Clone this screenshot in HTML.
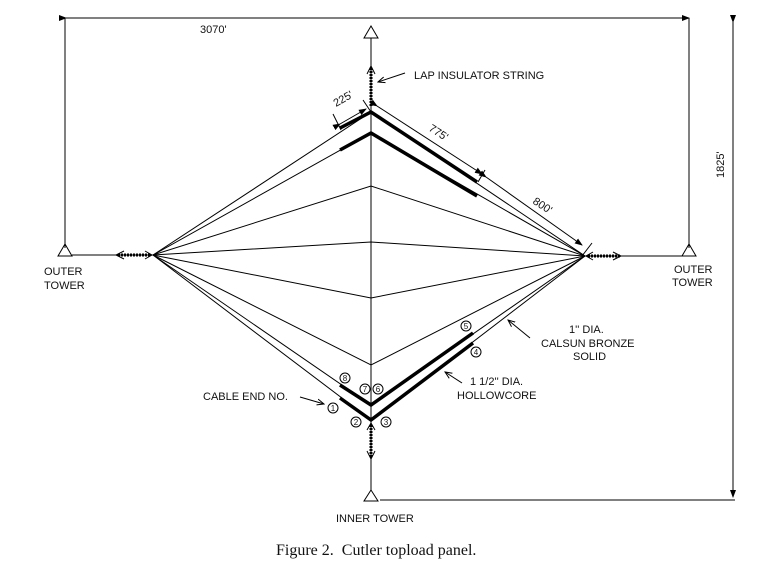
<!DOCTYPE html>
<html><head><meta charset="utf-8"><style>
html,body{margin:0;padding:0;background:#fff;}
svg{display:block;}
text{font-family:"Liberation Sans",sans-serif;font-size:11px;fill:#111;}
.cap{font-family:"Liberation Serif",serif;font-size:16px;}
</style></head><body>
<svg width="771" height="571" viewBox="0 0 771 571" xmlns="http://www.w3.org/2000/svg">
<defs>
<marker id="a" markerWidth="8" markerHeight="8" refX="7" refY="4" orient="auto"><path d="M0,1 L7,4 L0,7" fill="none" stroke="#000" stroke-width="1"/></marker>
<marker id="f" markerWidth="8" markerHeight="6" refX="7" refY="3" orient="auto"><path d="M0,0 L8,3 L0,6z" fill="#000"/></marker>
</defs>
<g stroke="#000" fill="none" stroke-width="1">
<line x1="66" y1="18" x2="689" y2="18" marker-start="url(#f)" marker-end="url(#f)"/>
<line x1="65" y1="18" x2="65" y2="248"/>
<line x1="689" y1="18" x2="689" y2="248"/>
<line x1="733" y1="22" x2="733" y2="497" marker-start="url(#f)" marker-end="url(#f)"/>
<line x1="380" y1="500" x2="735" y2="500"/>
<path d="M371,26 L364,38 L378,38 Z"/>
<path d="M65,244 L58,256 L72,256 Z"/>
<path d="M689,244 L682,256 L696,256 Z"/>
<path d="M371,490 L364,501 L378,501 Z"/>
<line x1="371" y1="38" x2="371" y2="490"/>
<line x1="72" y1="255" x2="153" y2="255"/>
<line x1="585" y1="256" x2="682" y2="256"/>
<line x1="371" y1="106" x2="371" y2="67" stroke-dasharray="2,1" stroke-width="3"/>
<path d="M367,74 L371,66 L375,74"/>
<line x1="371" y1="425" x2="371" y2="458" stroke-dasharray="2,1" stroke-width="3"/>
<path d="M367,451 L371,459 L375,451"/><path d="M367,430 L371,423 L375,430"/>
<line x1="118" y1="255" x2="150" y2="255" stroke-dasharray="2,1" stroke-width="3"/>
<path d="M124,251 L116,255 L124,259"/><path d="M145,251 L152,255 L145,259"/>
<line x1="588" y1="256" x2="620" y2="256" stroke-dasharray="2,1" stroke-width="3"/>
<path d="M613,252 L621,256 L613,260"/><path d="M593,252 L586,256 L593,260"/>
<g stroke-width="1">
<polyline points="153,255 371,112 585,256"/>
<polyline points="153,255 371,133 585,256"/>
<polyline points="153,255 371,186 585,256"/>
<polyline points="153,255 371,242 585,256"/>
<polyline points="153,255 371,298 585,256"/>
<polyline points="153,255 371,365 585,256"/>
<polyline points="153,255 371,405 585,256"/>
<polyline points="153,255 371,420 585,256"/>
</g>
<g stroke-width="3.5">
<polyline points="340,128 371,112 477,182"/>
<polyline points="340,150 371,133 477,196"/>
<polyline points="340,385 371,405 473,333"/>
<polyline points="340,398 371,420 473,343"/>
</g>
<line x1="340" y1="124" x2="366" y2="109" marker-start="url(#f)" marker-end="url(#f)"/>
<line x1="333" y1="114" x2="341" y2="130"/>
<line x1="363" y1="100" x2="371" y2="112"/>
<line x1="377" y1="106" x2="482" y2="174" marker-start="url(#f)" marker-end="url(#f)"/>
<line x1="485" y1="170" x2="478" y2="182"/>
<line x1="486" y1="177" x2="582" y2="245" marker-start="url(#f)" marker-end="url(#f)"/>
<line x1="592" y1="243" x2="582" y2="256"/>
<line x1="405" y1="73" x2="378" y2="82" marker-end="url(#a)"/>
<line x1="530" y1="338" x2="508" y2="320" marker-end="url(#a)"/>
<line x1="462" y1="383" x2="445" y2="372" marker-end="url(#a)"/>
<line x1="300" y1="397" x2="324" y2="404" marker-end="url(#a)"/>
</g>
<g stroke="#000" fill="none" stroke-width="1">
<circle cx="333" cy="408" r="5"/><circle cx="356" cy="422" r="5"/><circle cx="386" cy="422" r="5"/>
<circle cx="476" cy="352" r="5"/><circle cx="466" cy="326" r="5"/><circle cx="378" cy="389" r="5"/>
<circle cx="365" cy="389" r="5"/><circle cx="345" cy="378" r="5"/>
</g>
<g text-anchor="middle">
<text x="333" y="411" style="font-size:8px">1</text><text x="356" y="425" style="font-size:8px">2</text>
<text x="386" y="425" style="font-size:8px">3</text><text x="476" y="355" style="font-size:8px">4</text>
<text x="466" y="329" style="font-size:8px">5</text><text x="378" y="392" style="font-size:8px">6</text>
<text x="365" y="392" style="font-size:8px">7</text><text x="345" y="381" style="font-size:8px">8</text>
</g>
<text x="200" y="33">3070'</text>
<text x="724" y="178" transform="rotate(-90 724 178)">1825'</text>
<text x="414" y="79">LAP INSULATOR STRING</text>
<text x="336" y="107" transform="rotate(-30 336 107)">225'</text>
<text x="428" y="130" transform="rotate(33 428 130)">775'</text>
<text x="532" y="203" transform="rotate(33 532 203)">800'</text>
<text x="44" y="275">OUTER</text><text x="44" y="289">TOWER</text>
<text x="674" y="273">OUTER</text><text x="672" y="286">TOWER</text>
<text x="569" y="333">1'' DIA.</text>
<text x="541" y="347">CALSUN BRONZE</text>
<text x="573" y="360">SOLID</text>
<text x="470" y="385">1 1/2'' DIA.</text>
<text x="457" y="399">HOLLOWCORE</text>
<text x="203" y="400">CABLE END NO.</text>
<text x="336" y="522">INNER TOWER</text>
<text x="276" y="555" class="cap">Figure 2.&#160; Cutler topload panel.</text>
</svg>
</body></html>
